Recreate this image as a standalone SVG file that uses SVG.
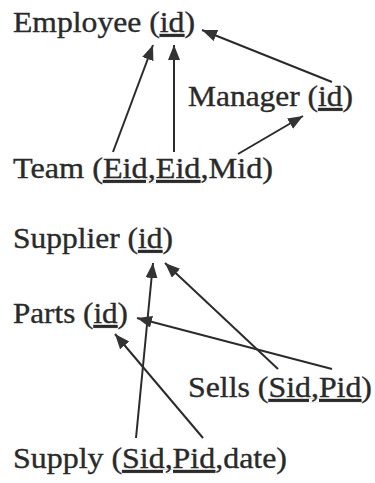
<svg xmlns="http://www.w3.org/2000/svg" width="375" height="483" viewBox="0 0 375 483">
<style>
.t{font-family:"Liberation Serif","Times New Roman",serif;font-size:29px;fill:#2a2a2a;stroke:#2a2a2a;stroke-width:0.35}
.u{text-decoration:underline}
.c line{stroke:#2b2b2b;stroke-width:2;marker-end:url(#ah)}
</style>
<defs>
<marker id="ah" markerUnits="userSpaceOnUse" markerWidth="16" markerHeight="13" refX="15" refY="6" orient="auto" viewBox="0 0 16 13">
<path d="M0,0 L15,6 L0,12 z" fill="#333"/>
</marker>
</defs>
<rect width="375" height="483" fill="#fff"/>
<g id="employee"><text class="t" x="13" y="32" textLength="182" lengthAdjust="spacingAndGlyphs">Employee (<tspan class="u">id</tspan>)</text></g>
<g id="manager"><text class="t" x="188" y="106" textLength="165" lengthAdjust="spacingAndGlyphs">Manager (<tspan class="u">id</tspan>)</text></g>
<g id="team"><text class="t" x="13" y="178" textLength="260" lengthAdjust="spacingAndGlyphs">Team (<tspan class="u">Eid,Eid</tspan>,Mid)</text></g>
<g id="supplier"><text class="t" x="13" y="248" textLength="160" lengthAdjust="spacingAndGlyphs">Supplier (<tspan class="u">id</tspan>)</text></g>
<g id="parts"><text class="t" x="13" y="323" textLength="115" lengthAdjust="spacingAndGlyphs">Parts (<tspan class="u">id</tspan>)</text></g>
<g id="sells"><text class="t" x="188" y="397" textLength="184" lengthAdjust="spacingAndGlyphs">Sells (<tspan class="u">Sid,Pid</tspan>)</text></g>
<g id="supply"><text class="t" x="13" y="468" textLength="274" lengthAdjust="spacingAndGlyphs">Supply (<tspan class="u">Sid,Pid</tspan>,date)</text></g>
<g id="connectors" class="c">
<line x1="113" y1="152" x2="153" y2="45"/>
<line x1="174" y1="152" x2="174" y2="45"/>
<line x1="332" y1="82" x2="202" y2="30"/>
<line x1="238" y1="154" x2="303" y2="116"/>
<line x1="136" y1="438" x2="153" y2="263"/>
<line x1="203" y1="438" x2="115" y2="334"/>
<line x1="278" y1="369" x2="165" y2="263"/>
<line x1="332" y1="369" x2="137" y2="318"/>
</g>
</svg>
